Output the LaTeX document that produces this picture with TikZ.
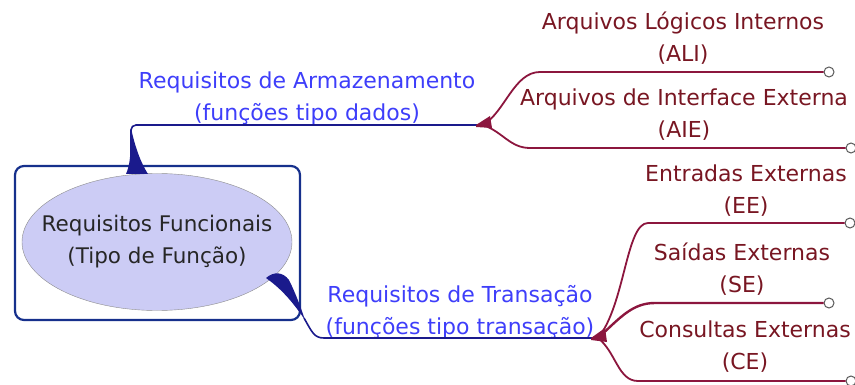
\documentclass[tikz,border=0pt]{standalone}
\usepackage{fontspec}
\setmainfont{DejaVu Sans}
\usetikzlibrary{arrows.meta, positioning, shapes.geometric}
\usepackage{xcolor}
\definecolor{navyline}{RGB}{26,26,140}
\definecolor{boxblue}{RGB}{22,48,140}
\definecolor{labelblue}{RGB}{62,62,250}
\definecolor{wine}{RGB}{140,22,62}
\definecolor{winetext}{RGB}{120,22,34}
\definecolor{lavender}{RGB}{204,204,245}

\begin{document}
\begin{tikzpicture}[
x=1pt, y=-1pt,
every node/.style={font=\fontsize{22}{32}\selectfont, align=center, inner sep=0pt},
branch/.style={text=labelblue},
leaf/.style={text=winetext},
tip/.style={circle, draw=black!65, fill=white, line width=1pt, minimum size=10pt},
twig/.style={wine, line width=1.8pt},
stem/.style={navyline, line width=1.6pt},
]
\useasboundingbox (0,0) rectangle (855,385);
% nodes
\node[draw=boxblue, line width=2.2pt, rounded corners=9pt, minimum width=285pt, minimum height=154pt] (box) at (157.5,243) {};
\node[ellipse, draw=black!45, fill=lavender, inner xsep=-40pt, inner ysep=-12pt, minimum width=270pt, minimum height=137pt, text=black!85, font=\fontsize{21.5}{32}\selectfont] (core) at (157,242) {Requisitos Funcionais\\(Tipo de Função)};
\node[branch] (store) at (307,98) {Requisitos de Armazenamento\\(funções tipo dados)};
\node[branch] (trans) at (460,312) {Requisitos de Transação\\(funções tipo transação)};
\node[leaf] (ali) at (683,38) {Arquivos Lógicos Internos\\(ALI)};
\node[leaf] (aie) at (684,115) {Arquivos de Interface Externa\\(AIE)};
\node[leaf] (ee) at (746,191) {Entradas Externas\\(EE)};
\node[leaf] (se) at (742,269) {Saídas Externas\\(SE)};
\node[leaf] (ce) at (745,347) {Consultas Externas\\(CE)};
% joints and ends
\coordinate (rootA) at (131,168);
\coordinate (rootB) at (304,318);
\coordinate (forkA) at (483,125);
\coordinate (forkB) at (598,338);
\node[tip] (aliend) at (829,72) {};
\node[tip] (aieend) at (851,148) {};
\node[tip] (eeend) at (850,223) {};
\node[tip] (seend) at (829,303) {};
\node[tip] (ceend) at (851,381) {};

% arrows
\fill[navyline] (126,174) .. controls (133,158) and (129,140) .. (131,128) .. controls (134,142) and (139,160) .. (148,174) -- cycle;
\draw[stem, rounded corners=5pt] (rootA) |- (forkA);
\fill[navyline] (266,278) .. controls (274,271) and (283,272) .. (289,280) .. controls (295,292) and (300,305) .. (305,320) .. controls (294,304) and (283,290) .. cycle;
\draw[stem] (rootB) .. controls (312,332) and (314,338) .. (324,338) -- (forkB);

\draw[twig] (forkA) .. controls (505,112) and (514,72) .. (540,72) -- (aliend);
\draw[twig] (forkA) .. controls (503,132) and (510,148) .. (530,148) -- (aieend);
\fill[wine] (476,125) -- (490,116) -- (492,128) -- (476,127) -- cycle;

\draw[twig] (forkB) .. controls (625,305) and (626,223) .. (648,223) -- (eeend);
\draw[twig, line width=2.4pt] (forkB) .. controls (620,318) and (632,303) .. (655,303) -- (seend);
\draw[twig] (forkB) .. controls (616,352) and (618,381) .. (638,381) -- (ceend);
\fill[wine] (591,338) -- (605,328) -- (607,342) -- (591,340) -- cycle;
\end{tikzpicture}
\end{document}
